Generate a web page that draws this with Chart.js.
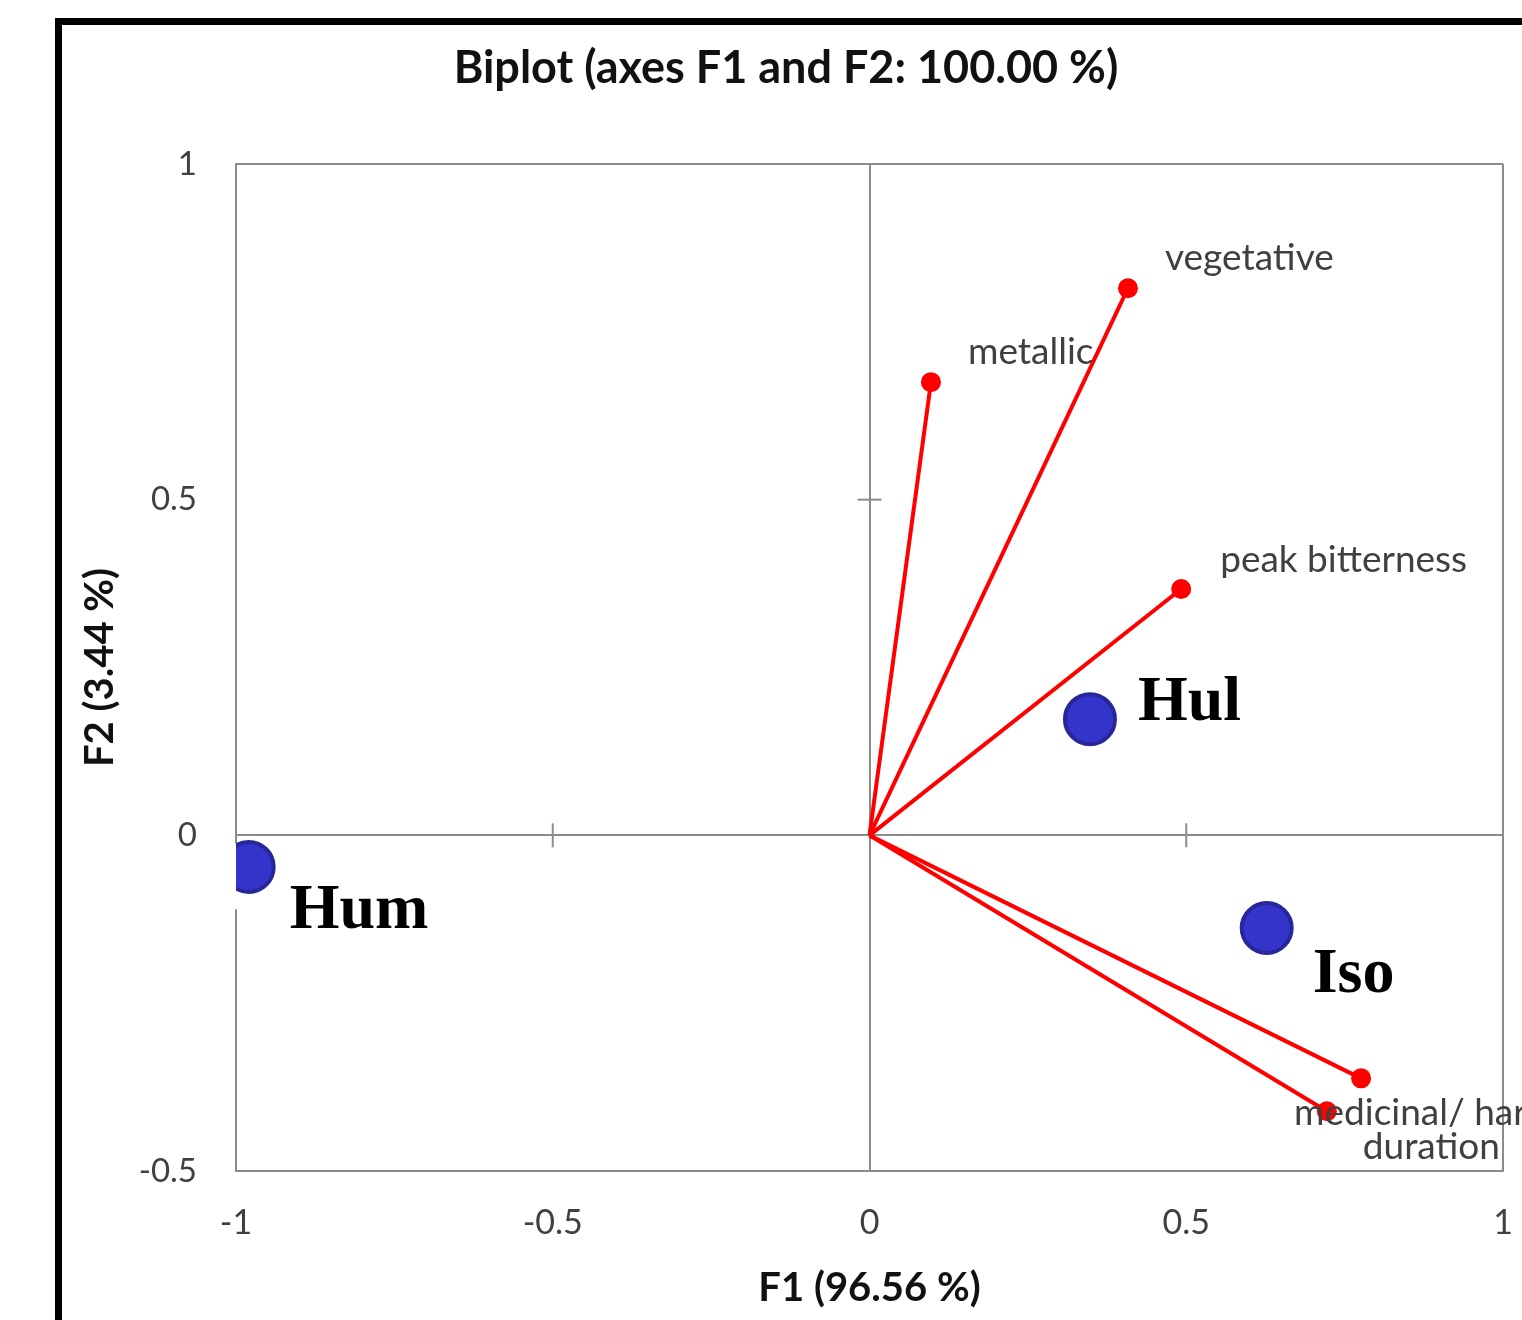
<!DOCTYPE html>
<html><head><meta charset="utf-8">
<script src="https://cdn.jsdelivr.net/npm/chart.js@4"></script>
<style>html,body{margin:0;padding:0;background:#fff}canvas{display:block}</style>
</head><body>
<canvas id="c" width="1522" height="1320"></canvas>
<script>
// ---- data ----
const variableNames = ['vegetative', 'metallic', 'peak bitterness', 'medicinal/ harsh', 'duration'];
const variableF1 = [0.408, 0.097, 0.492, 0.776, 0.722];
const variableF2 = [0.815, 0.675, 0.367, -0.362, -0.411];
const observationNames = ['Hul', 'Hum', 'Iso'];
const observationF1 = [0.348, -0.980, 0.627];
const observationF2 = [0.173, -0.047, -0.138];
const xTickValues = [-1, -0.5, 0, 0.5, 1];
const yTickValues = [-0.5, 0, 0.5, 1];
const chartTitle = 'Biplot (axes F1 and F2: 100.00 %)';
const xTitle = 'F1 (96.56 %)';
const yTitle = 'F2 (3.44 %)';

// ---- label placement (style only) ----
const varLabelOffsets = [[37, -30, 'left'], [37, -30, 'left'], [39, -29, 'left'], [-67, 35, 'left'], [173, 36, 'right']];
const obsLabelOffsets = [[48, 1], [41, 61], [46, 64]];

const GRAY = '#8c8c8c';
const RED = '#ff0000';

const datasets = [];
datasets.push({
  label: 'observations',
  data: observationF1.map((x, i) => ({ x, y: observationF2[i] })),
  showLine: false,
  pointRadius: 25,
  pointHoverRadius: 25,
  backgroundColor: '#3434cc',
  borderColor: '#27279a',
  borderWidth: 4
});
variableNames.forEach((n, i) => {
  datasets.push({
    label: n,
    data: [{ x: 0, y: 0 }, { x: variableF1[i], y: variableF2[i] }],
    showLine: true,
    borderColor: RED,
    borderWidth: 4,
    pointRadius: [0, 10],
    pointHoverRadius: [0, 10],
    pointBackgroundColor: RED,
    pointBorderWidth: 0
  });
});

const decor = {
  id: 'decor',
  beforeDraw(chart) {
    const c = chart.ctx;
    c.save();
    c.fillStyle = '#fff';
    c.fillRect(0, 0, chart.width, chart.height);
    c.restore();
  },
  beforeDatasetsDraw(chart) {
    const c = chart.ctx, xs = chart.scales.x, ys = chart.scales.y;
    const x0 = xs.getPixelForValue(0), y0 = ys.getPixelForValue(0);
    c.save();
    // white halo behind the left-most observation (axis line interrupted in the original)
    c.fillStyle = '#fff';
    c.fillRect(xs.left - 6, y0 + 8, 12, 66);
    c.strokeStyle = GRAY;
    c.lineWidth = 2;
    [-0.5, 0.5].forEach(v => {
      const px = xs.getPixelForValue(v);
      c.beginPath(); c.moveTo(px, y0 - 12); c.lineTo(px, y0 + 12); c.stroke();
    });
    [0.5].forEach(v => {
      const py = ys.getPixelForValue(v);
      c.beginPath(); c.moveTo(x0 - 12, py); c.lineTo(x0 + 12, py); c.stroke();
    });
    c.restore();
  },
  afterDraw(chart) {
    const c = chart.ctx, xs = chart.scales.x, ys = chart.scales.y;
    c.save();
    // frame
    c.fillStyle = '#000';
    c.fillRect(55, 18, chart.width - 55, 7);
    c.fillRect(55, 18, 7, chart.height - 18);
    // title
    c.font = 'bold 45px Lato';
    c.fillStyle = '#111';
    c.textAlign = 'center';
    c.textBaseline = 'middle';
    c.fillText(chartTitle, 786, 68);
    // variable labels
    c.font = '37px Lato';
    c.fillStyle = '#404040';
    c.textBaseline = 'middle';
    variableNames.forEach((n, i) => {
      const px = xs.getPixelForValue(variableF1[i]), py = ys.getPixelForValue(variableF2[i]);
      const o = varLabelOffsets[i];
      c.textAlign = o[2];
      c.fillText(n, px + o[0], py + o[1]);
    });
    // observation labels
    c.font = 'bold 64px "Liberation Serif"';
    c.fillStyle = '#000';
    c.textAlign = 'left';
    c.textBaseline = 'alphabetic';
    observationNames.forEach((n, i) => {
      const px = xs.getPixelForValue(observationF1[i]), py = ys.getPixelForValue(observationF2[i]);
      const o = obsLabelOffsets[i];
      c.fillText(n, px + o[0], py + o[1]);
    });
    c.restore();
  }
};

const noPad = s => { s.paddingLeft = 0; s.paddingRight = 0; s.paddingTop = 0; s.paddingBottom = 0; };

new Chart(document.getElementById('c'), {
  type: 'scatter',
  data: { datasets },
  plugins: [decor],
  options: {
    responsive: false,
    devicePixelRatio: 1,
    animation: false,
    layout: { autoPadding: false, padding: { left: 62, right: 19, top: 164, bottom: 0 } },
    plugins: { legend: { display: false }, tooltip: { enabled: false }, title: { display: false } },
    scales: {
      x: {
        type: 'linear', min: -1, max: 1,
        afterBuildTicks: s => { s.ticks = xTickValues.map(v => ({ value: v })); },
        afterFit: s => { s.height = 149; noPad(s); },
        ticks: { font: { family: 'Lato', size: 34 }, color: '#404040', padding: 32, callback: v => String(v), maxRotation: 0, autoSkip: false },
        grid: { color: ctx => (ctx.tick && (ctx.tick.value === 0 || ctx.tick.value === 1)) ? GRAY : 'rgba(0,0,0,0)', lineWidth: 2, drawTicks: false },
        border: { display: true, color: GRAY, width: 2 },
        title: { display: true, text: xTitle, font: { family: 'Lato', size: 40, weight: 'bold' }, color: '#111', padding: { top: 0, bottom: 8 } }
      },
      y: {
        type: 'linear', min: -0.5, max: 1,
        afterBuildTicks: s => { s.ticks = yTickValues.map(v => ({ value: v })); },
        afterFit: s => { s.width = 174; noPad(s); },
        ticks: { font: { family: 'Lato', size: 33 }, color: '#404040', padding: 39, callback: v => String(v), autoSkip: false },
        grid: { color: ctx => (ctx.tick && (ctx.tick.value === 0 || ctx.tick.value === 1)) ? GRAY : 'rgba(0,0,0,0)', lineWidth: 2, drawTicks: false },
        border: { display: true, color: GRAY, width: 2 },
        title: { display: true, text: yTitle, font: { family: 'Lato', size: 40, weight: 'bold' }, color: '#111', padding: { top: 14, bottom: 0 } }
      }
    }
  }
});
</script>
</body></html>
